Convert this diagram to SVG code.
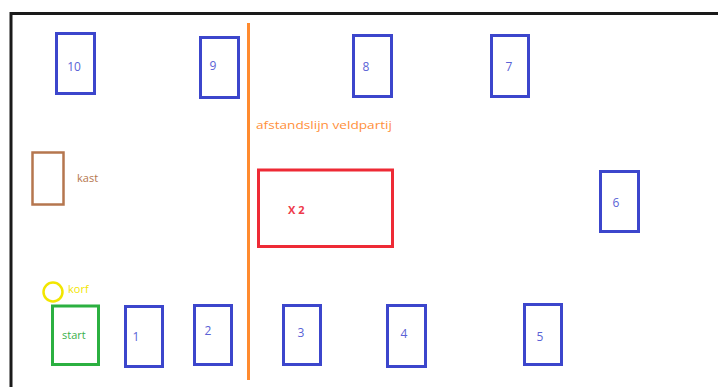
<svg xmlns="http://www.w3.org/2000/svg" width="718" height="387" viewBox="0 0 718 387">
<style>
.b{fill:none;stroke:#3c46cc;stroke-width:3}
.bt{fill:#5a62d6;font-family:"Open Sans","Liberation Sans",sans-serif;font-size:12px;text-anchor:middle}
.t{font-family:"Open Sans","Liberation Sans",sans-serif;font-size:11px}
</style>
<rect x="0" y="0" width="718" height="387" fill="#fff"/>
<path d="M11 387V13.5H718" fill="none" stroke="#1a1a1a" stroke-width="3"/>
<g id="connectors">
<line id="afstandslijn" x1="248.5" y1="23" x2="248.5" y2="380" stroke="#ff8a2e" stroke-width="3"/>
</g>
<text x="256" y="129" class="t" fill="#ff8f3a" font-size="11.5px" textLength="136" lengthAdjust="spacingAndGlyphs">afstandslijn veldpartij</text>
<g id="n10"><rect class="b" x="56.5" y="33.5" width="38" height="60"/><text class="bt" x="74" y="71">10</text></g>
<g id="n9"><rect class="b" x="200.5" y="37.5" width="38" height="60"/><text class="bt" x="213" y="70">9</text></g>
<g id="n8"><rect class="b" x="353.5" y="35.5" width="38" height="61"/><text class="bt" x="366" y="71">8</text></g>
<g id="n7"><rect class="b" x="491.5" y="35.5" width="37" height="61"/><text class="bt" x="509" y="71">7</text></g>
<g id="n6"><rect class="b" x="600.5" y="171.5" width="38" height="60"/><text class="bt" x="616" y="207">6</text></g>
<g id="kast"><rect x="32.5" y="152.5" width="31" height="52" fill="none" stroke="#b5764e" stroke-width="2.5"/><text x="77" y="182" class="t" fill="#b5764e">kast</text></g>
<g id="x2"><rect x="258.5" y="170" width="134" height="76.5" fill="none" stroke="#ee2a35" stroke-width="3"/><text x="288" y="214" class="t" fill="#ee3a4a" font-weight="bold">X 2</text></g>
<g id="korf"><circle cx="53" cy="292" r="9.5" fill="none" stroke="#f2e600" stroke-width="2.5"/><text x="68" y="293" class="t" fill="#f2e600">korf</text></g>
<g id="start"><rect x="52.5" y="306" width="46" height="58.5" fill="none" stroke="#2bb040" stroke-width="3"/><text x="62" y="339" class="t" fill="#3ab04a">start</text></g>
<g id="n1"><rect class="b" x="125.5" y="306.5" width="37" height="60"/><text class="bt" x="136" y="341">1</text></g>
<g id="n2"><rect class="b" x="194.5" y="305.5" width="37" height="59"/><text class="bt" x="208" y="335">2</text></g>
<g id="n3"><rect class="b" x="283.5" y="305.5" width="37" height="59"/><text class="bt" x="301" y="337">3</text></g>
<g id="n4"><rect class="b" x="387.5" y="305.5" width="38" height="61"/><text class="bt" x="404" y="338">4</text></g>
<g id="n5"><rect class="b" x="524.5" y="304.5" width="37" height="60"/><text class="bt" x="540" y="341">5</text></g>
</svg>
